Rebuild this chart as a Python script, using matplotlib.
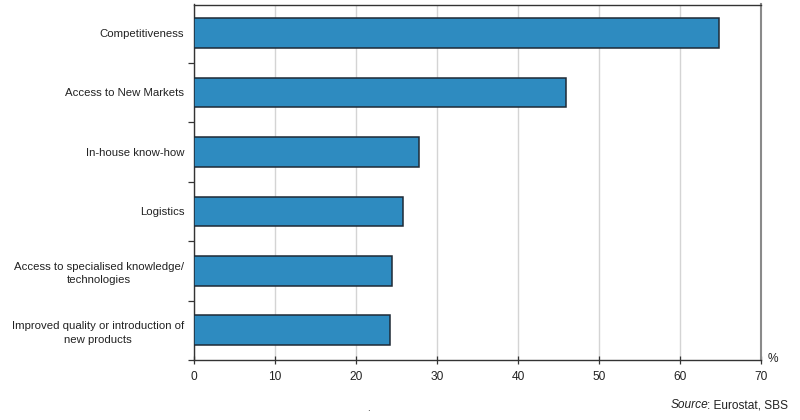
import matplotlib
matplotlib.use("Agg")
import matplotlib.pyplot as plt
import numpy as np

categories = [
    "Competitiveness",
    "Access to New Markets",
    "In-house know-how",
    "Logistics",
    "Access to specialised knowledge/\ntechnologies",
    "Improved quality or introduction of\nnew products",
]
values = [64.8, 45.9, 27.8, 25.8, 24.5, 24.2]
xticks = [0, 10, 20, 30, 40, 50, 60, 70]

plt.rcParams['font.family'] = ['Liberation Sans', 'DejaVu Sans']
FS = 8.2

fig = plt.figure(figsize=(8, 4.2), dpi=100)
left, right, top, bottom = 194 / 800, 761 / 800, 1 - 4.5 / 420, 1 - 360 / 420
ax = fig.add_axes([left, bottom, right - left, top - bottom])

y = np.arange(len(categories))
ax.barh(y, values, height=0.5, color="#2E8BC0", edgecolor="#1E2A36",
        linewidth=1.1, zorder=3)

ax.set_xlim(0, 70)
ax.set_ylim(5.5, -0.48)
ax.set_xticks(xticks)
ax.set_xticklabels([str(t) for t in xticks], fontsize=8.6, color="#222222")
ax.tick_params(axis='x', direction='inout', length=6, width=0.9, color="#333333", pad=5)
ax.grid(axis='x', color="#d4d4d4", linewidth=1, zorder=0)

ax.set_yticks(y)
ax.set_yticklabels(categories, fontsize=FS, color="#222222", multialignment='center',
                   linespacing=1.45)
ax.tick_params(axis='y', which='major', length=0, pad=7)
ax.set_yticks(np.arange(0.5, len(categories), 1), minor=True)
ax.tick_params(axis='y', which='minor', length=4.5, width=0.9, color="#333333", direction='out')

for s in ['left', 'bottom', 'top']:
    ax.spines[s].set_color("#333333")
    ax.spines[s].set_linewidth(1.0)
ax.spines['right'].set_color("#8a8a8a")
ax.spines['right'].set_linewidth(1.5)

fig.text(773 / 800, 1 - 359 / 420, "%", fontsize=8.6, color="#222222", ha='center', va='center')
t1 = fig.text(788 / 800, 1 - 405 / 420, ": Eurostat, SBS", fontsize=8.6, color="#222222",
              ha='right', va='center')
fig.canvas.draw()
bb = t1.get_window_extent()
fig.text((bb.x0 + 1.5) / fig.bbox.width, 1 - 405 / 420, "Source", fontsize=8.6, color="#222222",
         ha='right', va='center', style='italic')
fig.text(368 / 800, 1 - 408 / 420, ".", fontsize=7, color="#222222", ha='center', va='center')

fig.savefig("out.png", dpi=100)
